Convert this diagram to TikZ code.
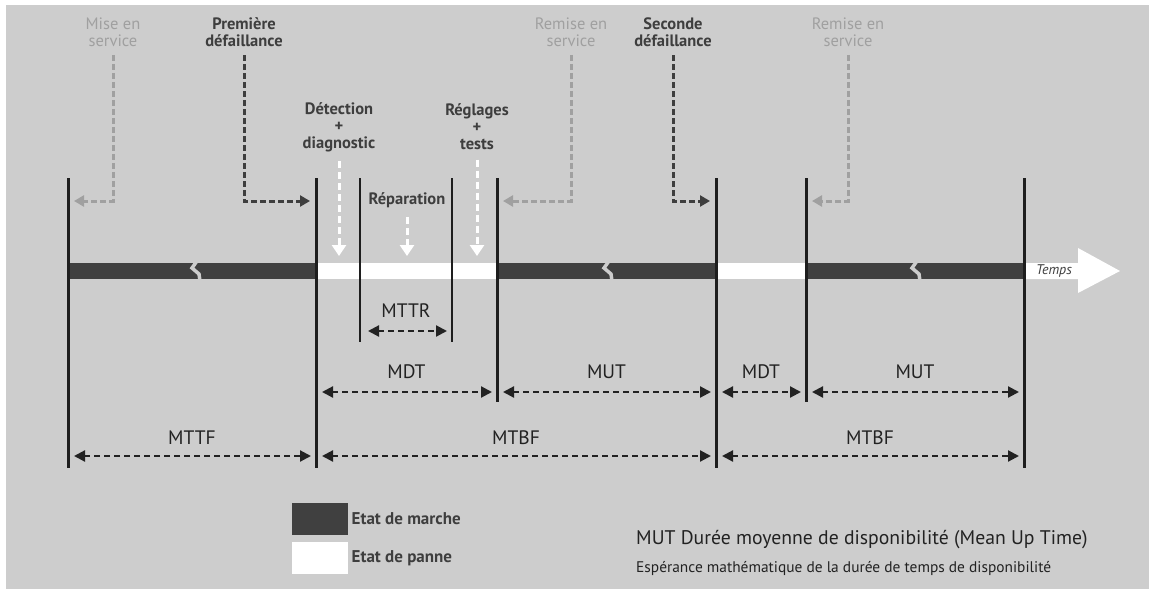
\documentclass[tikz,border=0pt]{standalone}
\usepackage{fontspec}
\setmainfont{PT Sans}
\usetikzlibrary{arrows.meta}
\definecolor{bggrey}{RGB}{205,205,205}
\definecolor{darkbar}{RGB}{64,64,64}
\definecolor{lightgrey}{RGB}{160,160,160}
\definecolor{darkgrey}{RGB}{62,62,62}
\definecolor{linecol}{RGB}{30,30,30}
\definecolor{dimcol}{RGB}{34,34,34}
\begin{document}
\begin{tikzpicture}[x=1pt, y=-1pt,
    vline/.style={line width=3pt, draw=linecol},
    thinline/.style={line width=1.4pt, draw=linecol},
    dimarrow/.style={line width=2.2pt, draw=dimcol, dash pattern=on 6pt off 4pt,
      {Triangle[length=11pt,width=11pt]}-{Triangle[length=11pt,width=11pt]},
      shorten <=6pt, shorten >=5pt},
    dimlabel/.style={font=\fontsize{19.5}{22}\selectfont, text=dimcol, anchor=base,
      yshift=14pt, inner sep=0pt},
    lightconn/.style={line width=3pt, draw=lightgrey, dash pattern=on 6pt off 3pt,
      -{Triangle[length=10pt,width=11pt]}, shorten <=5pt, shorten >=6pt},
    darkconn/.style={lightconn, draw=darkgrey},
    lightlbl/.style={text=lightgrey, font=\fontsize{16.5}{17}\selectfont, align=center},
    darklbl/.style={text=darkgrey, font=\bfseries\fontsize{16.5}{17}\selectfont, align=center},
    whitearrow/.style={line width=3pt, draw=white, dash pattern=on 7pt off 4pt,
      -{Triangle[length=11pt,width=14pt]}, shorten <=6pt},
    legbox/.style={minimum width=56pt, minimum height=32pt, inner sep=0pt},
    legtext/.style={anchor=west, text=darkgrey, font=\bfseries\fontsize{17}{19}\selectfont}
  ]
    \useasboundingbox (0,0) rectangle (1149,589);
    % Background
    \fill[white] (0,0) rectangle (1149,589);
    \fill[bggrey] (6,5) rectangle (1149,589);
    % Levels used by the connectors
    \coordinate (yElbow) at (0,201);
    \coordinate (yBar) at (0,256);
    \coordinate (yTTR) at (0,331);
    \coordinate (yDT) at (0,392);
    \coordinate (yBF) at (0,456);
    % Time axis
    \fill[darkbar] (68,263) rectangle (316,279);
    \fill[white] (316,263) rectangle (497,279);
    \fill[darkbar] (497,263) rectangle (716,279);
    \fill[white] (716,263) rectangle (806,279);
    \fill[darkbar] (806,263) rectangle (1024,279);
    \fill[white] (1024,263) -- (1078,263) -- (1078,248) -- (1120,271)
      -- (1078,293) -- (1078,279) -- (1024,279) -- cycle;
    \node[font=\itshape\fontsize{14}{16}\selectfont, text=darkgrey] (temps) at (1054,271) {Temps};
    % Breaks in the working periods
    \foreach \x in {195,607,915}
      \draw[bggrey, line width=3.5pt] (\x+2,261) -- (\x-3,268) -- (\x+4,274) -- (\x+5,281);
    % Event lines
    \foreach \n/\x/\b in {0/68/468, 1/316/468, 2/497/402, 3/716/468, 4/806/402, 5/1024/468} {
      \coordinate (L\n) at (\x,178);
      \draw[vline] (L\n) -- (\x,\b);
    }
    \coordinate (R1) at (360,178);
    \coordinate (R2) at (452,178);
    \draw[thinline] (R1) -- (360,342);
    \draw[thinline] (R2) -- (452,342);
    % Events above the axis
    \node[lightlbl] (mise) at (113,32) {Mise en\\service};
    \node[darklbl] (prem) at (244,32) {Première\\défaillance};
    \node[lightlbl] (remise1) at (571,32) {Remise en\\service};
    \node[darklbl] (seconde) at (673,32) {Seconde\\défaillance};
    \node[lightlbl] (remise2) at (848,32) {Remise en\\service};
    \draw[lightconn] (mise.south) |- (L0 |- yElbow);
    \draw[darkconn] (prem.south) |- (L1 |- yElbow);
    \draw[lightconn] (remise1.south) |- (L2 |- yElbow);
    \draw[darkconn] (seconde.south) |- (L3 |- yElbow);
    \draw[lightconn] (remise2.south) |- (L4 |- yElbow);
    % Repair steps
    \node[darklbl] (detect) at (339,127) {Détection\\+\\diagnostic};
    \node[darklbl] (repar) at (407,200) {Réparation};
    \node[darklbl] (regl) at (477,127) {Réglages\\+\\tests};
    \draw[whitearrow] (detect.south) -- (detect.south |- yBar);
    \draw[whitearrow] (repar.south) -- (repar.south |- yBar);
    \draw[whitearrow] (regl.south) -- (regl.south |- yBar);
    % Durations
    \draw[dimarrow, shorten <=8pt] (R1 |- yTTR) -- (R2 |- yTTR) node[dimlabel, midway] (mttr) {MTTR};
    \draw[dimarrow] (L1 |- yDT) -- (L2 |- yDT) node[dimlabel, midway] (mdt1) {MDT};
    \draw[dimarrow] (L2 |- yDT) -- (L3 |- yDT) node[dimlabel, midway] (mut1) {MUT};
    \draw[dimarrow] (L3 |- yDT) -- (L4 |- yDT) node[dimlabel, midway] (mdt2) {MDT};
    \draw[dimarrow] (L4 |- yDT) -- (L5 |- yDT) node[dimlabel, midway] (mut2) {MUT};
    \draw[dimarrow] (L0 |- yBF) -- (L1 |- yBF) node[dimlabel, midway, yshift=-2pt] (mttf) {MTTF};
    \draw[dimarrow] (L1 |- yBF) -- (L3 |- yBF) node[dimlabel, midway, yshift=-2pt] (mtbf1) {MTBF};
    \draw[dimarrow] (L3 |- yBF) -- (L5 |- yBF) node[dimlabel, midway, yshift=-2pt] (mtbf2) {MTBF};
    % Legend
    \node[legbox, fill=darkbar] (legwork) at (320,519) {};
    \node[legbox, fill=white] (legfail) at (320,558) {};
    \node[legtext] (txtwork) at (legwork.east) {Etat de marche};
    \node[legtext] (txtfail) at (legfail.east) {Etat de panne};
    \node[anchor=base west, inner sep=0pt, text=dimcol, font=\fontsize{19.7}{22}\selectfont]
      (mutdef) at (636,544) {MUT Durée moyenne de disponibilité (Mean Up Time)};
    \node[anchor=base west, inner sep=0pt, text=dimcol, font=\fontsize{15.4}{17}\selectfont]
      (mutexp) at (636,572) {Espérance mathématique de la durée de temps de disponibilité};
\end{tikzpicture}
\end{document}
